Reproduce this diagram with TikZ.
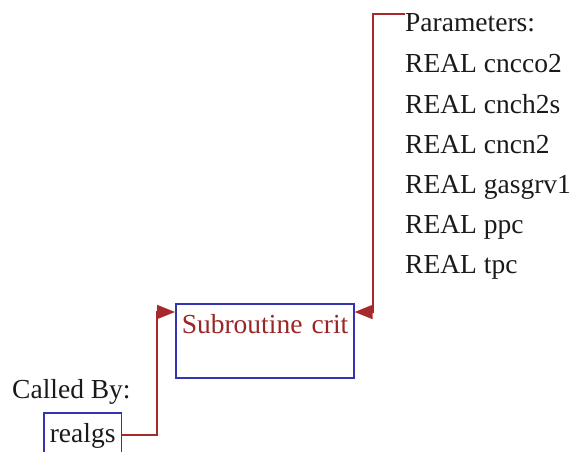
\documentclass[tikz,border=0pt]{standalone}
\usepackage{fontspec}
\setmainfont{Liberation Serif}
\usepackage{xcolor}
\usepackage{tikz}
\usetikzlibrary{arrows.meta, calc}
\definecolor{wire}{HTML}{A8292B}
\definecolor{frame}{HTML}{3434B0}
\definecolor{subtxt}{HTML}{9A2626}
\definecolor{ink}{HTML}{1A1A1A}

\begin{document}
\begin{tikzpicture}[x=1pt, y=-1pt,
    every node/.style={font=\fontsize{27.5}{33}\selectfont, text=ink, inner sep=0pt},
    subbox/.style={draw=frame, line width=1.6pt, anchor=north west, align=left,
                   inner xsep=6pt, inner ysep=0pt, text height=30pt},
    call/.style={wire, line width=1.8pt, -{Triangle[length=18pt, width=14pt]}}]
  \useasboundingbox (0,0) rectangle (573,452);
  \clip (0,0) rectangle (573,452);
  % the routine and its caller
  \node[subbox, text=subtxt, text width=166pt, text depth=44pt] (crit) at (175,303) {\mbox{Subroutine crit}};
  \node[anchor=base west] (calledby) at (12,398) {Called By:};
  \node[subbox, text depth=14pt] (realgs) at (43,412) {realgs};
  % parameter list, one line every 40px
  \node[anchor=base west] (params) at (405,32) {Parameters:};
  \foreach \nm [count=\i] in {cncco2, cnch2s, cncn2, gasgrv1, ppc, tpc}{
    \node[anchor=base west] (par\i) at (405,{33+40*\i}) {REAL \nm};
  }
  \draw[call] (realgs.east) -- ++(35,0) |- ([yshift=-9pt]crit.north west);
  \draw[call] (params.north west) -- ++(-32,0) |- ([yshift=-9pt]crit.north east);
\end{tikzpicture}
\end{document}
